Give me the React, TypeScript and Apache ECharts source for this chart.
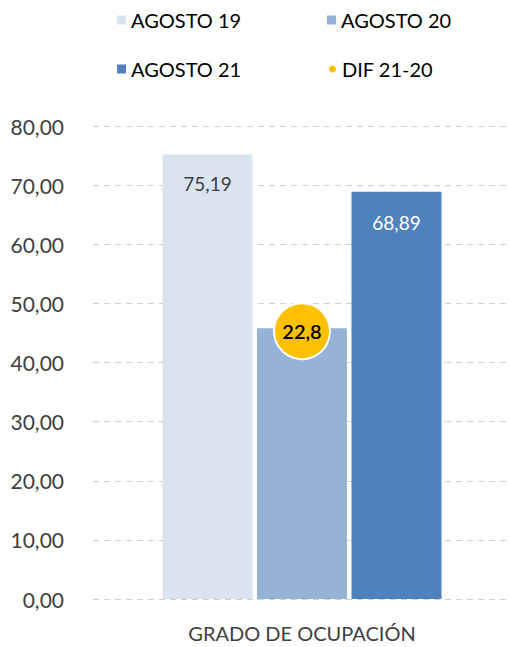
import React, { useEffect, useRef } from "react";
import * as echarts from "echarts";

const categories = ["GRADO DE OCUPACIÓN"];
const agosto19 = [75.19];
const agosto20 = [45.8];
const agosto21 = [68.89];
const difValues = [22.8];
const yTicks = { min: 0, max: 80, interval: 10 };

const FONT = "Lato";
const fmt = (v: number, d: number) => v.toFixed(d).replace(".", ",");

export default function App() {
  const ref = useRef<HTMLDivElement>(null);
  useEffect(() => {
    if (!ref.current) return;
    const chart = echarts.init(ref.current, null, { renderer: "svg" });
    const legendText = { fontFamily: FONT, fontSize: 20, color: "#000" };
    chart.setOption({
      animation: false,
      textStyle: { fontFamily: FONT },
      legend: [
        { data: [{ name: "AGOSTO 19", icon: "rect" }], left: 112, top: 5, itemWidth: 9, itemHeight: 9, itemGap: 8, textStyle: legendText },
        { data: [{ name: "AGOSTO 20", icon: "rect" }], left: 322, top: 5, itemWidth: 9, itemHeight: 9, textStyle: legendText },
        { data: [{ name: "AGOSTO 21", icon: "rect" }], left: 112, top: 54, itemWidth: 9, itemHeight: 9, textStyle: legendText },
        { data: [{ name: "DIF 21-20", icon: "circle" }], left: 322, top: 54, itemWidth: 9, itemHeight: 9, textStyle: legendText },
      ],
      grid: { left: 93, right: 0, top: 126, bottom: 48, containLabel: false },
      xAxis: {
        type: "category",
        data: categories,
        axisLine: { show: false },
        axisTick: { show: false },
        axisLabel: { fontFamily: FONT, fontSize: 20, color: "#404040", margin: 24 },
      },
      yAxis: {
        type: "value",
        min: yTicks.min,
        max: yTicks.max,
        interval: yTicks.interval,
        axisLine: { show: false },
        axisTick: { show: false },
        axisLabel: { fontFamily: FONT, fontSize: 21, color: "#404040", margin: 29, formatter: (v: number) => fmt(v, 2) },
        splitLine: { lineStyle: { type: [6, 5], color: "#D0D0D0", width: 1 } },
      },
      series: [
        {
          name: "AGOSTO 19", type: "bar", data: agosto19, barWidth: 90, barGap: "5%",
          itemStyle: { color: "#DAE3F0" },
          label: { show: true, position: "insideTop", distance: 20, fontFamily: FONT, fontSize: 19, color: "#404040", formatter: (p: any) => fmt(p.value, 2) },
        },
        {
          name: "AGOSTO 20", type: "bar", data: agosto20, barWidth: 90, barGap: "5%",
          itemStyle: { color: "#95B3D7" },
        },
        {
          name: "AGOSTO 21", type: "bar", data: agosto21, barWidth: 90, barGap: "5%",
          itemStyle: { color: "#4F81BD" },
          label: { show: true, position: "insideTop", distance: 21, fontFamily: FONT, fontSize: 19, color: "#FFFFFF", formatter: (p: any) => fmt(p.value, 2) },
        },
        {
          name: "DIF 21-20", type: "scatter",
          data: agosto20,
          symbol: "circle", symbolSize: 56, symbolOffset: [0, 3], z: 10,
          itemStyle: { color: "#FFC000", borderColor: "#FFFFFF", borderWidth: 2, opacity: 1 },
          label: {
            show: true, position: "inside", fontFamily: FONT, fontSize: 20, fontWeight: 600, color: "#000",
            formatter: (p: any) => fmt(difValues[p.dataIndex], 1),
          },
        },
      ],
    });
    return () => chart.dispose();
  }, []);
  return <div ref={ref} style={{ width: 511, height: 647, position: "absolute", left: 0, top: 0 }} />;
}
